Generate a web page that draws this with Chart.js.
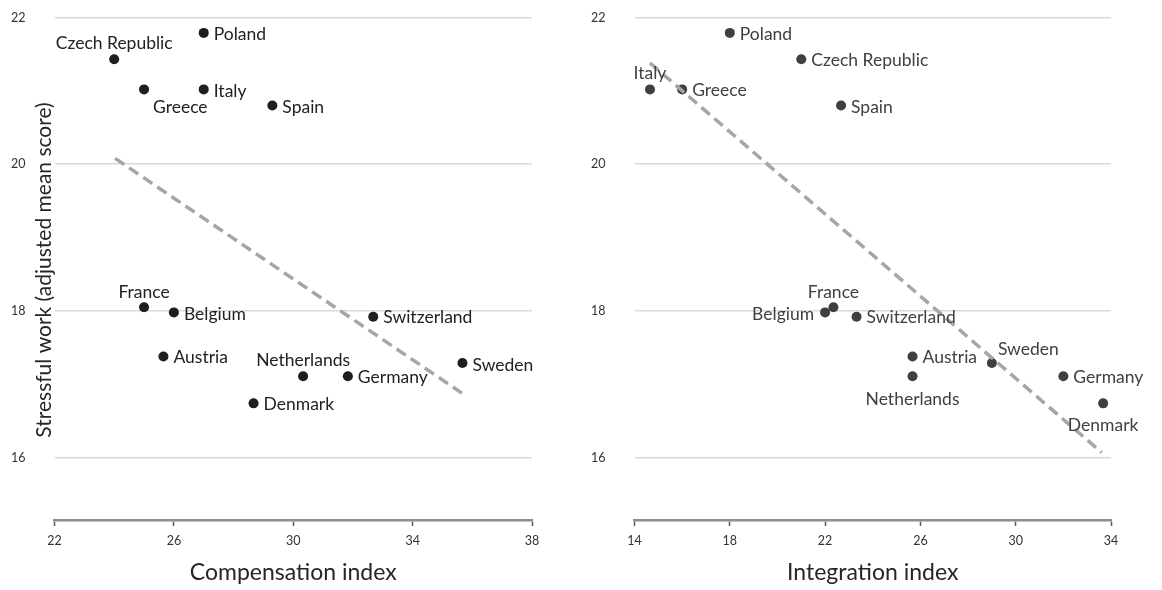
<!DOCTYPE html>
<html>
<head>
<meta charset="utf-8">
<script src="https://cdn.jsdelivr.net/npm/chart.js@4/dist/chart.umd.min.js"></script>
<style>
  html, body { margin: 0; padding: 0; background: #ffffff; }
  #wrap { position: relative; width: 1162px; height: 590px; overflow: hidden; }
  .panel { position: absolute; top: 0; width: 581px; height: 590px; }
</style>
</head>
<body>
<div id="wrap">
  <div class="panel" style="left:0"><canvas id="compChart" width="581" height="590"></canvas></div>
  <div class="panel" style="left:581px"><canvas id="intChart" width="581" height="590"></canvas></div>
</div>
<script>
// Country scores: stressful work against the two labour-market indices
const countries = ['Poland', 'Czech Republic', 'Greece', 'Italy', 'Spain', 'France', 'Belgium',
                   'Austria', 'Netherlands', 'Germany', 'Denmark', 'Switzerland', 'Sweden'];
const compensation = [27.0, 24.0, 25.0, 27.0, 29.3, 25.0, 26.0, 25.65, 30.33, 31.83, 28.67, 32.68, 35.67];
const integration  = [18.0, 21.0, 16.0, 14.65, 22.67, 22.35, 22.0, 25.67, 25.67, 32.0, 33.67, 23.32, 29.0];
const stress       = [21.79, 21.43, 21.02, 21.02, 20.8, 18.05, 17.98, 17.38, 17.11, 17.11, 16.74, 17.92, 17.29];

// Linear trend lines (end points)
const compTrendX = [24.03, 35.65];
const compTrendY = [20.08, 16.88];
const intTrendX  = [14.65, 33.61];
const intTrendY  = [21.38, 16.07];

// Axis ticks
const yTicks = [16, 18, 20, 22];
const compTicks = [22, 26, 30, 34, 38];
const intTicks = [14, 18, 22, 26, 30, 34];

// Label placement around each point: side, dx, dy
const compPlacement = {
  'Poland': ['r', 10, 1], 'Czech Republic': ['a', 0, -16], 'Greece': ['r', 9, 18],
  'Italy': ['r', 10, 2], 'Spain': ['r', 10, 2], 'France': ['a', 0, -15],
  'Belgium': ['r', 10, 2], 'Austria': ['r', 10, 1], 'Netherlands': ['a', 0, -16],
  'Germany': ['r', 10, 1], 'Denmark': ['r', 10, 1], 'Switzerland': ['r', 10, 1],
  'Sweden': ['r', 10, 2]
};
const intPlacement = {
  'Poland': ['r', 10, 1], 'Czech Republic': ['r', 10, 1], 'Greece': ['r', 10, 1],
  'Italy': ['a', 0, -16], 'Spain': ['r', 10, 2], 'France': ['a', 0, -15],
  'Belgium': ['l', -11, 2], 'Austria': ['r', 10, 1], 'Netherlands': ['b', 0, 23],
  'Germany': ['r', 10, 1], 'Denmark': ['b', 0, 22], 'Switzerland': ['r', 10, 1],
  'Sweden': ['r', 6, -14]
};

const FONT = "Lato, 'Liberation Sans', sans-serif";

// Writes the country name next to each scatter point
const pointLabels = {
  id: 'pointLabels',
  afterDatasetsDraw(chart, args, opts) {
    const meta = chart.getDatasetMeta(1);
    const ctx = chart.ctx;
    ctx.save();
    ctx.font = '17.5px ' + FONT;
    ctx.fillStyle = opts.color;
    ctx.textBaseline = 'middle';
    meta.data.forEach((pt, i) => {
      const name = countries[i];
      const [side, dx, dy] = opts.placement[name];
      ctx.textAlign = side === 'r' ? 'left' : side === 'l' ? 'right' : 'center';
      ctx.fillText(name, pt.x + dx, pt.y + dy);
    });
    ctx.restore();
  }
};

// Vertical title of the stress axis
const stressTitle = {
  id: 'stressTitle',
  afterDraw(chart, args, opts) {
    if (!opts.text) return;
    const ctx = chart.ctx;
    ctx.save();
    ctx.translate(opts.cx, opts.cy);
    ctx.rotate(-Math.PI / 2);
    ctx.font = '21px ' + FONT;
    ctx.fillStyle = '#262626';
    ctx.textAlign = 'center';
    ctx.textBaseline = 'middle';
    ctx.fillText(opts.text, 0, 0);
    ctx.restore();
  }
};

function makeChart(id, xValues, trendX, trendY, xTicks, xTitle, cfg) {
  return new Chart(document.getElementById(id), {
    data: {
      datasets: [
        {
          type: 'line',
          order: 0,
          data: trendX.map((x, i) => ({ x: x, y: trendY[i] })),
          borderColor: '#a6a6a6',
          borderWidth: 3.5,
          borderDash: [11, 6],
          pointRadius: 0,
          fill: false
        },
        {
          type: 'scatter',
          order: 1,
          data: xValues.map((x, i) => ({ x: x, y: stress[i] })),
          backgroundColor: cfg.dot,
          borderWidth: 0,
          pointRadius: 5
        }
      ]
    },
    options: {
      responsive: false,
      animation: false,
      layout: { padding: { top: 17.5, right: cfg.padRight, bottom: 0, left: 0 } },
      plugins: {
        legend: { display: false },
        tooltip: { enabled: false },
        pointLabels: { color: cfg.labelColor, placement: cfg.placement },
        stressTitle: { text: cfg.yTitle, cx: 44, cy: 270 }
      },
      scales: {
        x: {
          type: 'linear',
          min: xTicks[0],
          max: xTicks[xTicks.length - 1],
          afterBuildTicks: s => { s.ticks = xTicks.map(v => ({ value: v })); },
          afterFit: s => { s.height = 70; },
          ticks: { color: '#333333', font: { family: FONT, size: 12.5 }, padding: 7 },
          grid: { drawOnChartArea: false, drawTicks: true, tickLength: 6, tickColor: '#595959', tickWidth: 1.5 },
          border: { display: true, color: '#8c8c8c', width: 2.5 },
          title: { display: true, text: xTitle, color: '#262626', font: { family: FONT, size: 23 }, padding: { top: 4, bottom: 4 } }
        },
        y: {
          type: 'linear',
          min: 15.15,
          max: 22,
          afterBuildTicks: s => { s.ticks = yTicks.map(v => ({ value: v })); },
          afterFit: s => { s.width = cfg.yWidth; },
          ticks: { color: '#333333', font: { family: FONT, size: 12.5 }, padding: 0 },
          grid: { color: '#d9d9d9', lineWidth: 1.5, drawTicks: true, tickLength: 29, tickColor: 'rgba(0,0,0,0)' },
          border: { display: false }
        }
      }
    },
    plugins: [pointLabels, stressTitle]
  });
}

makeChart('compChart', compensation, compTrendX, compTrendY, compTicks, 'Compensation index', {
  dot: '#1e1e1e', labelColor: '#222222', placement: compPlacement,
  padRight: 49, yWidth: 54.5, yTitle: 'Stressful work (adjusted mean score)'
});
makeChart('intChart', integration, intTrendX, intTrendY, intTicks, 'Integration index', {
  dot: '#3f3f3f', labelColor: '#404040', placement: intPlacement,
  padRight: 51, yWidth: 53.5, yTitle: ''
});
</script>
</body>
</html>
